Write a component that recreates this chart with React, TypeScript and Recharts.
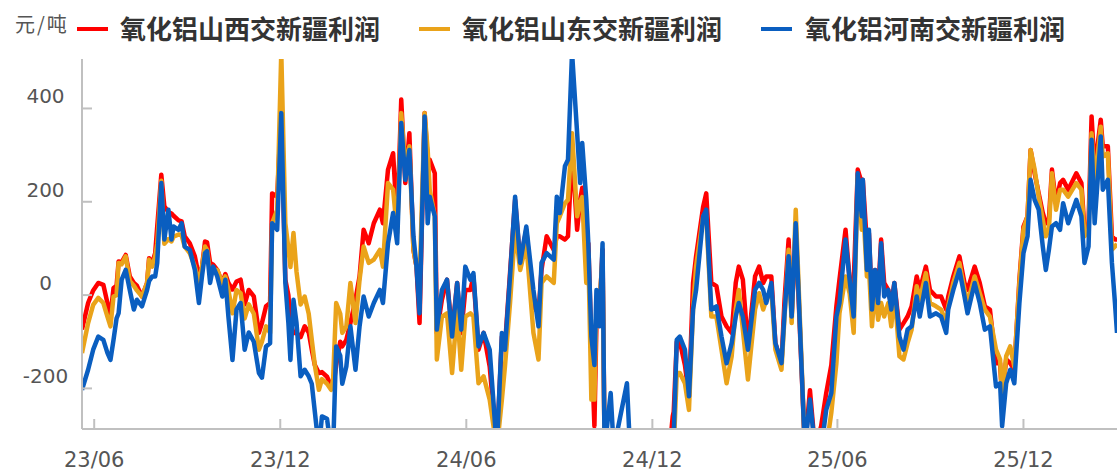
import React from 'react';
import { LineChart, Line, XAxis, YAxis } from 'recharts';

// days counted from 2023-06-01
const days = [
  -12, -6, -1, 4, 9, 13, 16, 19, 22, 24, 27, 31, 35, 39, 42, 47, 52, 54, 57, 60,
  62, 66, 69, 73, 76, 78, 83, 86, 89, 94, 99, 103, 106, 109, 111, 114, 117, 121, 126, 129,
  132, 136, 140, 144, 148, 152, 157, 162, 165, 169, 173, 175, 180, 184, 188, 191, 193, 196, 199, 203,
  207, 211, 214, 217, 221, 224, 229, 233, 235, 238, 242, 244, 248, 252, 257, 261, 265, 270, 275, 281,
  284, 289, 294, 298, 302, 306, 310, 314, 317, 320, 325, 328, 330, 335, 337, 342, 347, 352, 357, 361,
  365, 370, 373, 378, 383, 389, 396, 401, 404, 409, 414, 419, 425, 432, 437, 440, 445, 452, 455, 458,
  463, 466, 470, 475, 478, 480, 484, 486, 489, 492, 494, 497, 500, 502, 508, 511, 524, 527, 566, 569, 570,
  573, 576, 581, 585, 589, 592, 599, 602, 607, 612, 617, 622, 627, 631, 634, 638, 643, 650, 654, 658,
  661, 666, 670, 676, 679, 683, 686, 690, 699, 704, 709, 715, 720, 725, 730, 733, 739, 743, 747, 751,
  755, 756, 760, 762, 765, 768, 771, 774, 777, 781, 784, 787, 792, 796, 800, 804, 809, 812, 818, 822,
  828, 833, 838, 840, 845, 851, 856, 859, 866, 871, 876, 881, 887, 891, 893, 897, 901, 905, 910, 914,
  918, 921, 925, 929, 933, 936, 939, 942, 946, 950, 953, 958, 966, 971, 974, 978, 981, 984, 990, 992,
  997, 1001, 1004, 1006,
];

const shanxi = [
  -74, -17, 10, 26, 22, -17, -46, 15, 20, 72, 70, 86, 40, 26, 20, -3, 26, 79, 68, 90,
  147, 258, 190, 178, 175, 170, 160, 158, 126, 111, 83, 40, 60, 115, 113, 69, 65, 54, 26, 45,
  26, 12, 29, 33, -20, 11, -3, -81, -60, -24, -17, 218, 211, 397, 33, 0, -60, -81, -81, -90,
  -67, -80, -117, -150, -167, -165, -175, -195, -200, -150, -100, -110, -96, -60, -10, 40, 140, 111, 154, 183,
  154, 269, 304, 154, 419, 240, 347, 97, 61, -60, 390, 288, 290, 261, -81, -10, 33, -81, 26, -81,
  11, 11, 40, -117, -81, -153, -330, -89, -110, 47, 204, 69, 140, -24, -39, 54, 126, 97, 126, 126,
  119, 126, 311, 140, 204, 230, 97, 111, -100, -281, -60, -40, 97, -330, -330, -330, -330, -330, -330, -260, -250,
  -100, -100, -150, -217, 26, 83, 190, 218, 26, 19, -46, -67, -81, 26, 61, 33, -110, 40, 61, 26,
  40, 40, -103, -146, -10, 119, -46, 140, -330, -204, -330, -281, -210, -150, -24, 33, 140, 33, 26, 269,
  240, 247, 111, 133, -24, 54, 0, 119, 26, 11, -20, 26, -74, -60, -46, -24, 40, 11, 61, 11,
  -3, -3, -31, -3, 40, 83, 26, 11, 61, 26, -24, -31, -146, -146, -220, -138, -146, -160, 33, 147,
  169, 311, 261, 218, 176, 154, 161, 269, 197, 240, 247, 226, 261, 240, 140, 154, 383, 269, 376, 319,
  319, 126, 119, 119,
];

const shandong = [
  -124, -60, -21, -6, -17, -46, -67, -3, 0, 69, 66, 83, 30, 20, 10, -3, 26, 76, 61, 83,
  110, 245, 110, 120, 115, 125, 130, 128, 104, 90, 61, 26, 61, 104, 97, 47, 55, 54, 26, 40,
  11, -39, 11, 4, -50, -20, -40, -117, -100, -67, -81, 154, 183, 520, 154, 100, 60, 133, 50, -20,
  -3, -40, -96, -150, -203, -180, -190, -203, -180, -17, -40, -81, -67, 26, -60, 33, 104, 69, 76, 97,
  61, 240, 226, 133, 390, 276, 319, 97, 61, 26, 390, 311, 226, 169, -138, -46, -39, -167, -31, -160,
  -46, -39, -46, -189, -174, -224, -330, -224, -153, -17, 140, 54, 111, -81, -138, 26, 40, 26, 154, 169,
  197, 204, 347, 169, 200, 210, 26, 90, -224, -224, -17, -17, 80, -330, -330, -330, -330, -330, -330, -330, -330,
  -167, -167, -189, -246, -31, 61, 169, 169, -46, -46, -117, -189, -131, -31, 11, -74, -181, -31, 4, -31,
  -10, 11, -117, -160, -46, 97, -60, 183, -330, -330, -330, -330, -330, -252, -146, -39, 40, 4, -81, 254,
  140, 200, 40, 60, -67, 19, -53, -17, -46, -17, -67, 11, -131, -138, -103, -74, 19, -10, 47, -17,
  -24, -31, -60, -24, 26, 69, 11, -17, 40, 4, -31, -46, -117, -138, -224, -131, -110, -153, 26, 140,
  169, 311, 269, 211, 161, 126, 140, 261, 183, 226, 226, 211, 240, 226, 126, 140, 347, 240, 361, 297,
  304, 97, 104, 110,
];

const henan = [
  -203, -160, -117, -89, -96, -124, -139, -96, -50, -39, 33, 54, 11, -31, -10, -24, 11, 30, 40, 40,
  69, 240, 119, 183, 119, 147, 140, 154, 104, 97, 54, -17, 40, 90, 94, 26, 61, 40, -3, 33,
  -46, -139, -31, -17, -117, -80, -100, -167, -177, -110, -103, 154, 140, 390, 26, -60, -139, -10, -60, -174,
  -160, -174, -190, -250, -330, -260, -265, -330, -330, -110, -130, -190, -153, -67, -160, -67, -3, -46, -17, 11,
  -17, 111, 176, 111, 369, 247, 311, 126, 61, -39, 383, 154, 211, 169, -74, 11, 33, -89, 26, -74,
  61, 33, 47, -110, -81, -117, -330, -81, -117, 40, 211, 69, 147, 11, -67, 69, 90, 76, 211, 176,
  276, 290, 520, 347, 240, 326, 204, 111, -89, -150, 11, -67, 111, -330, -210, -330, -189, -330, -330, -330, -300,
  -96, -89, -117, -217, -31, 11, 169, 183, -31, -24, -89, -146, -103, -46, -17, -46, -117, 11, 26, 11,
  -17, 26, -103, -146, -39, 83, -46, 154, -330, -224, -330, -330, -246, -210, -46, -17, 119, 33, -46, 261,
  169, 247, 54, 140, -31, 54, -17, 111, -3, 11, -31, 26, -89, -117, -74, -67, -3, -46, 26, -46,
  -39, -46, -81, -31, 11, 54, -3, -39, 26, -17, -74, -67, -196, -189, -281, -189, -160, -189, -17, 90,
  126, 247, 204, 183, 104, 54, 97, 147, 154, 140, 197, 154, 204, 169, 69, 104, 333, 154, 340, 226,
  247, 69, -17, -81,
];

const tickDays = [0, 183, 366, 549, 731, 914];
const tickLabels = ['23/06', '23/12', '24/06', '24/12', '25/06', '25/12'];
const yTicks = [-200, 0, 200, 400];

const seriesNames = ['氧化铝山西交新疆利润', '氧化铝山东交新疆利润', '氧化铝河南交新疆利润'];
const seriesColors = ['#ff0000', '#eaa31a', '#0a5ec0'];

const data = days.map((d, i) => ({
  day: d,
  shanxi: shanxi[i],
  shandong: shandong[i],
  henan: henan[i],
}));

const axisColor = '#c0c0c0';
const labelFont = '"DejaVu Sans", sans-serif';
const cjkFont = '"Noto Sans CJK SC", sans-serif';

const XTick = (props: any) => {
  const { x, y, payload } = props;
  const idx = tickDays.indexOf(payload.value);
  return (
    <g>
      <line x1={x} y1={y} x2={x} y2={y - 10} stroke={axisColor} strokeWidth={2} />
      <text x={x} y={y + 31} textAnchor="middle" dominantBaseline="central"
        fill="#555" fontSize={21} fontFamily={labelFont}>
        {tickLabels[idx]}
      </text>
    </g>
  );
};

const YTick = (props: any) => {
  const { x, y, payload } = props;
  return (
    <g>
      <line x1={x} y1={y} x2={x + 10} y2={y} stroke={axisColor} strokeWidth={2} />
      <text x={45.5} y={y - 12} textAnchor="middle" dominantBaseline="central"
        fill="#555" fontSize={20} fontFamily={labelFont}>
        {payload.value}
      </text>
    </g>
  );
};

const legendPos = [
  { line: 77, text: 120 },
  { line: 419, text: 462 },
  { line: 761, text: 805 },
];

export default function App() {
  return (
    <div style={{ position: 'relative', width: 1117, height: 474, background: '#fff' }}>
      <style>{'body{margin:0}'}</style>
      <div style={{
        position: 'absolute', left: 15, top: 12, fontSize: 20, lineHeight: '23px',
        letterSpacing: 2, fontFamily: cjkFont, color: '#555',
      }}>
        元/吨
      </div>
      {seriesNames.map((name, i) => (
        <React.Fragment key={name}>
          <div style={{
            position: 'absolute', left: legendPos[i].line, top: 27, width: 31, height: 4,
            background: seriesColors[i],
          }} />
          <div style={{
            position: 'absolute', left: legendPos[i].text, top: 13, fontSize: 26, lineHeight: '29px',
            fontWeight: 'bold', fontFamily: cjkFont, color: '#333', whiteSpace: 'nowrap',
          }}>
            {name}
          </div>
        </React.Fragment>
      ))}
      <LineChart width={1117} height={474} data={data}
        margin={{ top: 59, right: 0, left: 0, bottom: 0 }}>
        <XAxis dataKey="day" type="number" domain={[-12, 1006]} ticks={tickDays} interval={0}
          allowDataOverflow height={45} axisLine={{ stroke: axisColor, strokeWidth: 2 }}
          tickLine={false} tickSize={0} tickMargin={0} tick={XTick} />
        <YAxis domain={[-287, 506]} ticks={yTicks} interval={0} allowDataOverflow width={82}
          axisLine={{ stroke: axisColor, strokeWidth: 2 }}
          tickLine={false} tickSize={0} tickMargin={0} tick={YTick} />
        <Line type="linear" dataKey="shanxi" stroke={seriesColors[0]} strokeWidth={4.5}
          dot={false} isAnimationActive={false} strokeLinejoin="round" />
        <Line type="linear" dataKey="shandong" stroke={seriesColors[1]} strokeWidth={4.5}
          dot={false} isAnimationActive={false} strokeLinejoin="round" />
        <Line type="linear" dataKey="henan" stroke={seriesColors[2]} strokeWidth={4.5}
          dot={false} isAnimationActive={false} strokeLinejoin="round" />
      </LineChart>
    </div>
  );
}
